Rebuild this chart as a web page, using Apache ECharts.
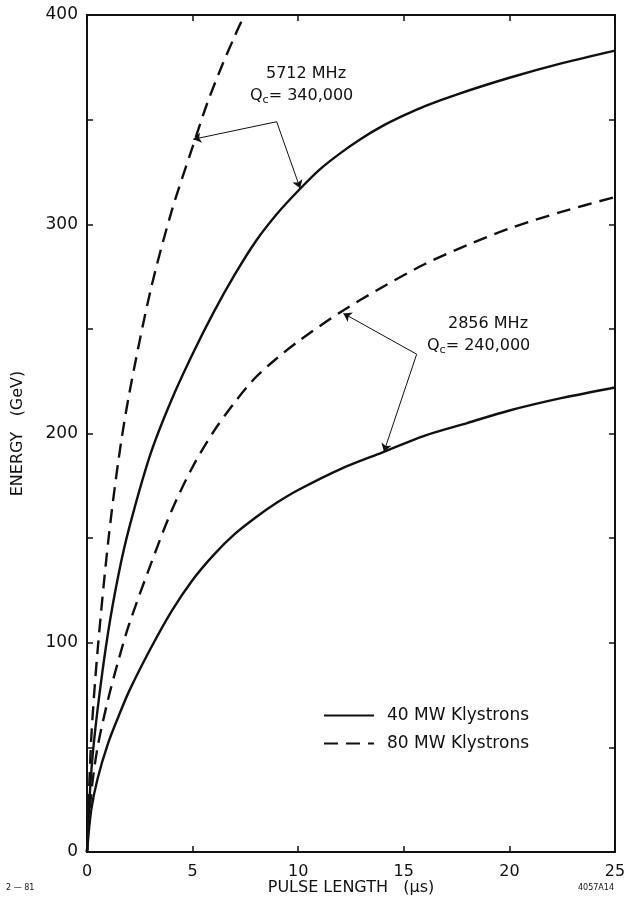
<!DOCTYPE html>
<html>
<head>
<meta charset="utf-8">
<script src="https://cdn.jsdelivr.net/npm/echarts@6/dist/echarts.min.js"></script>
<style>
  html, body { margin: 0; padding: 0; background: #fff; }
  #chart { width: 628px; height: 902px; }
</style>
</head>
<body>
<div id="chart"></div>
<script>
// pulse length (us) / energy (GeV)
var t5712_40 = [0, 0.2, 0.5, 1, 1.5, 2, 3, 4, 5, 6, 7, 8, 9, 10, 11, 12, 13, 14, 15, 16, 17.5, 20, 22.5, 25];
var e5712_40 = [0, 38, 68, 105, 133, 155, 190, 216, 238, 258, 276, 292, 305, 316, 326, 334, 341, 347, 352, 356.5, 362, 370, 377, 383];
var t5712_80 = [0, 0.2, 0.5, 1, 1.5, 2, 3, 4, 5, 5.7, 6.4, 7, 7.45];
var e5712_80 = [0, 54, 96, 148, 188, 219, 268, 306, 337, 358, 376, 390, 400];
var t2856_40 = [0, 0.2, 0.5, 1, 1.5, 2, 3, 4, 5, 6, 7, 8, 9, 10, 12, 14, 16, 18, 20, 22.5, 25];
var e2856_40 = [0, 20, 35, 52, 65, 77, 97, 115, 130, 142, 152, 160, 167, 173, 183, 191, 199, 205, 211, 217, 222];
var t2856_80 = [0, 0.2, 0.5, 1, 1.5, 2, 3, 4, 5, 6, 7, 8, 9, 10, 12, 14, 16, 18, 20, 22.5, 25];
var e2856_80 = [0, 28, 50, 73, 92, 109, 137, 163, 184, 201, 215, 227, 236, 244, 258, 270, 281, 290, 298, 306, 313];

var xTicks = [0, 5, 10, 15, 20, 25];
var yLabels = [0, 100, 200, 300, 400];

var INK = '#111';
var FONT = 'DejaVu Sans';

function zip(xs, ys) {
  return xs.map(function (x, i) { return [x, ys[i]]; });
}

// callout arrows: corner of the leader -> point on the curve
function arrows(corner, tips) {
  return tips.map(function (tip) {
    return [{ coord: corner }, { coord: tip }];
  });
}

var arrowStyle = {
  silent: true,
  animation: false,
  symbol: ['none', 'arrow'],
  symbolSize: 8,
  label: { show: false },
  lineStyle: { color: INK, width: 1, type: 'solid' }
};

var solid = { color: INK, width: 2.4, type: 'solid' };
var dashed = { color: INK, width: 2.4, type: [14, 8] };

var frameTick = { inside: true, length: 6, lineStyle: { color: INK, width: 1.5 } };
var frameLine = { show: true, onZero: false, lineStyle: { color: INK, width: 2 } };

var chart = echarts.init(document.getElementById('chart'), null, { renderer: 'canvas' });

var option = {
  backgroundColor: '#fff',
  animation: false,
  textStyle: { fontFamily: FONT, color: INK },
  grid: { left: 87, right: 13, top: 15, bottom: 50, outerBoundsMode: 'none' },
  legend: {
    orient: 'vertical',
    left: 318,
    top: 702,
    itemWidth: 50,
    itemHeight: 10,
    itemGap: 11,
    selectedMode: false,
    itemStyle: { opacity: 0 },
    data: ['40 MW Klystrons', '80 MW Klystrons'],
    textStyle: { fontFamily: FONT, fontSize: 17, color: INK, padding: [0, 0, 0, 8] }
  },
  xAxis: [{
    type: 'value',
    min: 0, max: 25, interval: 5,
    name: 'PULSE LENGTH   (\u03BCs)',
    nameLocation: 'middle',
    nameGap: 28,
    nameMoveOverlap: false,
    nameTextStyle: { fontFamily: FONT, fontSize: 16, color: INK },
    axisLine: frameLine,
    axisTick: frameTick,
    axisLabel: {
      fontSize: 16, color: INK, margin: 12,
      formatter: function (v) { return xTicks.indexOf(v) >= 0 ? String(v) : ''; }
    },
    splitLine: { show: false }
  }, {
    type: 'value', position: 'top',
    min: 0, max: 25, interval: 5,
    axisLine: frameLine,
    axisTick: frameTick,
    axisLabel: { show: false },
    splitLine: { show: false }
  }],
  yAxis: [{
    type: 'value',
    min: 0, max: 400, interval: 50,
    name: 'ENERGY   (GeV)',
    nameLocation: 'middle',
    nameGap: 61,
    nameRotate: 90,
    nameTextStyle: { fontFamily: FONT, fontSize: 16, color: INK },
    axisLine: frameLine,
    axisTick: frameTick,
    axisLabel: {
      fontSize: 17, color: INK, margin: 9,
      formatter: function (v) { return yLabels.indexOf(v) >= 0 ? String(v) : ''; }
    },
    splitLine: { show: false }
  }, {
    type: 'value', position: 'right',
    min: 0, max: 400, interval: 50,
    axisLine: frameLine,
    axisTick: frameTick,
    axisLabel: { show: false },
    splitLine: { show: false }
  }],
  series: [{
    name: '40 MW Klystrons',
    type: 'line', smooth: 0.3, showSymbol: false, symbol: 'none',
    color: INK, lineStyle: solid,
    data: zip(t5712_40, e5712_40),
    markLine: Object.assign({
      data: arrows([8.98, 349], [[5.03, 340.6], [10.09, 317.2]])
    }, arrowStyle)
  }, {
    name: '80 MW Klystrons',
    type: 'line', smooth: 0.3, showSymbol: false, symbol: 'none',
    color: INK, lineStyle: dashed,
    data: zip(t5712_80, e5712_80)
  }, {
    name: '40 MW Klystrons',
    type: 'line', smooth: 0.3, showSymbol: false, symbol: 'none',
    color: INK, lineStyle: solid,
    data: zip(t2856_40, e2856_40),
    markLine: Object.assign({
      data: arrows([15.61, 237.9], [[12.14, 257.4], [14.06, 191.3]])
    }, arrowStyle)
  }, {
    name: '80 MW Klystrons',
    type: 'line', smooth: 0.3, showSymbol: false, symbol: 'none',
    color: INK, lineStyle: dashed,
    data: zip(t2856_80, e2856_80)
  }],
  graphic: [
    { type: 'text', left: 266, top: 66, style: { text: '5712 MHz', font: '16px "DejaVu Sans"', fill: INK } },
    { type: 'text', left: 250, top: 88, style: {
      text: 'Q{s|c}= 340,000', font: '16px "DejaVu Sans"', fill: INK,
      rich: { s: { fontSize: 11, padding: [9, 0, 0, 0], fontFamily: FONT } }
    } },
    { type: 'text', left: 448, top: 316, style: { text: '2856 MHz', font: '16px "DejaVu Sans"', fill: INK } },
    { type: 'text', left: 427, top: 338, style: {
      text: 'Q{s|c}= 240,000', font: '16px "DejaVu Sans"', fill: INK,
      rich: { s: { fontSize: 11, padding: [9, 0, 0, 0], fontFamily: FONT } }
    } },
    { type: 'text', left: 6, top: 884, style: { text: '2 \u2014 81', font: '8px "DejaVu Sans"', fill: INK } },
    { type: 'text', left: 578, top: 884, style: { text: '4057A14', font: '8px "DejaVu Sans"', fill: INK } }
  ]
};

chart.setOption(option);
</script>
</body>
</html>
